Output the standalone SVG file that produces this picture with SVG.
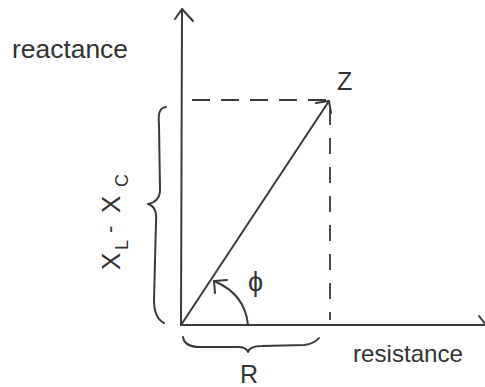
<svg xmlns="http://www.w3.org/2000/svg" width="485" height="387" viewBox="0 0 485 387">
<style>
.ln{fill:none;stroke:#3a3a3a;stroke-width:2;stroke-linecap:round;stroke-linejoin:round}
.dash{fill:none;stroke:#3a3a3a;stroke-width:1.8;stroke-dasharray:18 11}
.t{font-family:"Liberation Sans","DejaVu Sans",sans-serif;fill:#333}
</style>
<rect width="485" height="387" fill="#ffffff"/>
<g id="axes">
  <path class="ln" d="M182,9 L181,325 L487,325"/>
  <path class="ln" d="M175,19 L182,9 L193,21"/>
  <path class="ln" d="M479,316 L486,325"/>
</g>
<g id="connectors">
  <path class="dash" d="M192,100 L326,100"/>
  <path class="dash" d="M330,109 L330,320" style="stroke-dasharray:16 13"/>
  <path class="ln" d="M181,325 L329,101"/>
  <path class="ln" d="M316,103 L329,101 L331,113"/>
  <path class="ln" d="M248,325 C246,303 233,289 214,281"/>
  <path class="ln" d="M227,280 L214,281 L215,293"/>
</g>
<g id="brace-x">
  <path class="ln" d="M166,107 C159,108 158,114 159,125 L160,190 C160,198 155,203 148,204 C155,206 157,212 156,222 L154,300 C154,314 158,320 164,323"/>
</g>
<g id="brace-r">
  <path class="ln" d="M183,337 C184,344 190,347 200,347 L238,347 C244,347 247,349 248,352 C249,348 253,346 262,346 L304,345 C312,344 316,342 319,338"/>
</g>
<g id="labels">
  <text class="t" x="12" y="58" font-size="26" textLength="116" lengthAdjust="spacingAndGlyphs">reactance</text>
  <text class="t" x="353" y="362" font-size="24" textLength="110" lengthAdjust="spacingAndGlyphs">resistance</text>
  <text class="t" x="337" y="90" font-size="25">Z</text>
  <text class="t" x="240" y="383" font-size="25">R</text>
  <text class="t" x="248" y="291" font-size="27" font-family="DejaVu Sans, sans-serif">ϕ</text>
  <g transform="translate(120,270) rotate(-90)">
    <text class="t" font-size="26"><tspan x="0" y="0">X</tspan><tspan x="20" y="8" font-size="18">L</tspan><tspan x="37" y="-3" font-size="22">-</tspan><tspan x="57" y="0">X</tspan><tspan x="83" y="8" font-size="18">C</tspan></text>
  </g>
</g>
</svg>
